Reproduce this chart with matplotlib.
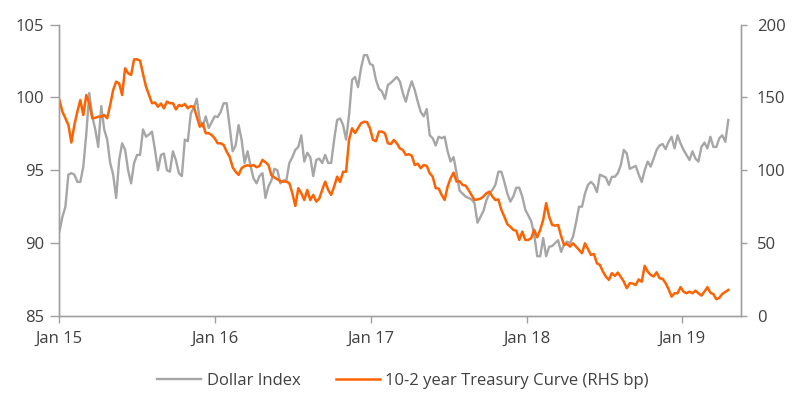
import pandas as pd
import matplotlib
matplotlib.use('Agg')
import matplotlib.pyplot as plt
import matplotlib.dates as mdates

plt.rcParams['font.family'] = ['Open Sans', 'DejaVu Sans']

# weekly observations starting 2 Jan 2015
start_date = '2015-01-02'

dollar_index = [
    90.8, 91.8, 92.5, 94.7, 94.8, 94.7, 94.2, 94.2, 95.25, 97.5,
    100.3, 98.7, 97.8, 96.6, 99.4, 97.8, 97.1, 95.5, 94.7, 93.1,
    95.7, 96.85, 96.4, 95.0, 94.1, 95.5, 96.05, 96.05, 97.8, 97.3,
    97.45, 97.65, 96.4, 95.0, 96.05, 96.15, 95.0, 94.9, 96.3, 95.7,
    94.8, 94.6, 97.1, 97.0, 98.9, 99.3, 99.9, 98.45, 98.0, 98.7,
    97.9, 98.3, 98.7, 98.65, 99.0, 99.6, 99.6, 98.0, 96.3, 96.7,
    98.1, 97.1, 95.5, 96.3, 95.3, 94.45, 94.1, 94.6, 94.8, 93.1,
    93.9, 94.3, 95.1, 95.0, 94.1, 94.3, 94.3, 95.5, 95.9, 96.4,
    96.6, 97.4, 95.6, 96.2, 95.9, 94.6, 95.7, 95.8, 95.5, 96.05,
    95.5, 95.5, 97.1, 98.45, 98.55, 98.1, 97.1, 98.8, 101.2, 101.4,
    100.7, 102.0, 102.9, 102.9, 102.3, 102.2, 101.2, 100.6, 100.4, 99.9,
    100.85, 101.0, 101.2, 101.4, 101.1, 100.3, 99.7, 100.5, 101.1, 100.5,
    99.7, 99.0, 98.7, 99.2, 97.4, 97.2, 96.7, 97.3, 97.2, 97.3,
    96.3, 95.6, 95.9, 94.8, 93.6, 93.4, 93.2, 93.1, 93.0, 92.75,
    91.4, 91.8, 92.2, 92.95, 93.4, 93.65, 94.0, 94.9, 94.9, 94.2,
    93.4, 92.85, 93.2, 93.8, 93.8, 93.2, 92.3, 91.9, 91.5, 90.6,
    89.1, 89.1, 90.35, 89.1, 89.75, 89.8, 90.0, 90.2, 89.4, 89.9,
    90.1, 90.0, 90.45, 91.4, 92.5, 92.5, 93.4, 94.0, 94.2, 94.0,
    93.5, 94.7, 94.6, 94.5, 94.0, 94.55, 94.55, 94.8, 95.35, 96.4,
    96.15, 95.1, 95.2, 95.3, 94.7, 94.2, 95.0, 95.6, 95.25, 95.8,
    96.4, 96.7, 96.8, 96.45, 96.95, 97.3, 96.5, 97.4, 96.85, 96.4,
    96.05, 95.7, 96.3, 95.8, 95.6, 96.6, 96.9, 96.5, 97.3, 96.6,
    96.6, 97.2, 97.4, 96.95, 98.45,
]

curve_10_2 = [
    148.2, 140.2, 135.7, 131.1, 119.0, 131.0, 140.2, 148.2, 137.9, 151.6,
    146.0, 135.7, 136.0, 136.8, 136.8, 137.9, 135.7, 144.8, 155.1, 160.8,
    159.6, 151.6, 170.0, 166.5, 165.4, 176.1, 176.1, 175.2, 166.0, 157.3,
    151.6, 146.0, 146.5, 143.6, 145.8, 142.5, 147.1, 146.0, 146.0, 141.8,
    144.8, 144.0, 145.5, 142.5, 144.0, 143.6, 136.8, 129.9, 132.2, 125.4,
    125.4, 124.2, 121.9, 118.5, 118.5, 117.4, 112.8, 109.3, 102.1, 99.0,
    96.8, 101.4, 102.9, 103.4, 102.9, 103.6, 102.1, 102.9, 107.1, 105.5,
    103.6, 96.5, 95.0, 93.8, 92.5, 92.2, 92.2, 91.1, 84.2, 75.5,
    87.7, 84.2, 79.6, 86.5, 79.6, 83.1, 78.5, 80.5, 86.5, 92.2,
    86.5, 83.1, 88.8, 95.6, 92.0, 99.0, 99.0, 121.0, 128.8, 125.5,
    128.8, 132.2, 133.3, 133.0, 128.8, 120.8, 120.0, 126.5, 126.5, 125.4,
    118.5, 118.0, 120.8, 118.5, 115.0, 113.9, 110.5, 111.0, 110.0, 103.6,
    104.5, 101.4, 103.6, 103.0, 98.0, 95.6, 87.7, 87.5, 83.1, 79.6,
    88.8, 94.5, 98.4, 92.2, 92.5, 89.9, 89.5, 86.5, 83.1, 79.6,
    80.0, 80.5, 82.0, 84.2, 85.3, 82.0, 79.6, 80.0, 72.8, 68.2,
    63.0, 61.3, 59.1, 58.5, 52.2, 57.9, 52.2, 52.2, 53.4, 59.1,
    54.0, 59.1, 65.9, 77.4, 68.2, 62.5, 62.0, 62.5, 54.9, 48.8,
    49.5, 47.6, 49.9, 47.6, 45.3, 43.1, 49.9, 46.0, 41.9, 42.5,
    36.2, 35.0, 30.5, 27.0, 24.8, 29.4, 27.5, 29.8, 26.8, 23.6,
    19.1, 22.5, 22.3, 21.3, 25.1, 23.5, 34.4, 30.5, 28.2, 27.1,
    30.0, 25.9, 25.5, 22.5, 18.4, 13.3, 15.6, 15.6, 19.8, 16.7,
    15.6, 16.7, 15.6, 17.4, 15.6, 14.0, 16.7, 19.8, 16.0, 15.0,
    11.5, 12.5, 15.2, 16.5, 17.9,
]

dates = pd.date_range(start_date, periods=len(dollar_index), freq='7D')

GREY = '#a6a6a6'
ORANGE = '#ff6200'
AXIS = '#a0a0a0'
TEXT = '#404040'

fig = plt.figure(figsize=(8, 4.12), dpi=100)
ax = fig.add_axes([0.07375, 0.233, 0.8521, 0.7075])
ax2 = ax.twinx()

l1, = ax.plot(dates, dollar_index, color=GREY, lw=1.7, label='Dollar Index')
l2, = ax2.plot(dates, curve_10_2, color=ORANGE, lw=1.8,
               label='10-2 year Treasury Curve (RHS bp)')

ax.set_ylim(85, 105)
ax.set_yticks([85, 90, 95, 100, 105])
ax2.set_ylim(0, 200)
ax2.set_yticks([0, 50, 100, 150, 200])

ax.set_xlim(pd.Timestamp('2015-01-01'), pd.Timestamp('2019-05-18'))
ax.xaxis.set_major_locator(mdates.YearLocator())
ax.xaxis.set_major_formatter(mdates.DateFormatter('%b %y'))

for a in (ax, ax2):
    a.spines['top'].set_visible(False)
    for s in ('left', 'right', 'bottom'):
        a.spines[s].set_color(AXIS)
        a.spines[s].set_linewidth(1.0)
    a.tick_params(colors=AXIS, labelcolor=TEXT, labelsize=12, width=1.0)

ax.tick_params(axis='y', length=6.5, pad=4)
ax2.tick_params(axis='y', length=4.5, pad=7)
ax.tick_params(axis='x', length=5, pad=6)

fig.legend(handles=[l1, l2], loc='center', bbox_to_anchor=(0.504, 0.075),
           ncol=2, frameon=False, fontsize=12, handlelength=2.6,
           handletextpad=0.35, columnspacing=2.15, labelcolor=TEXT)

fig.savefig('out.png', dpi=100, facecolor='white')
